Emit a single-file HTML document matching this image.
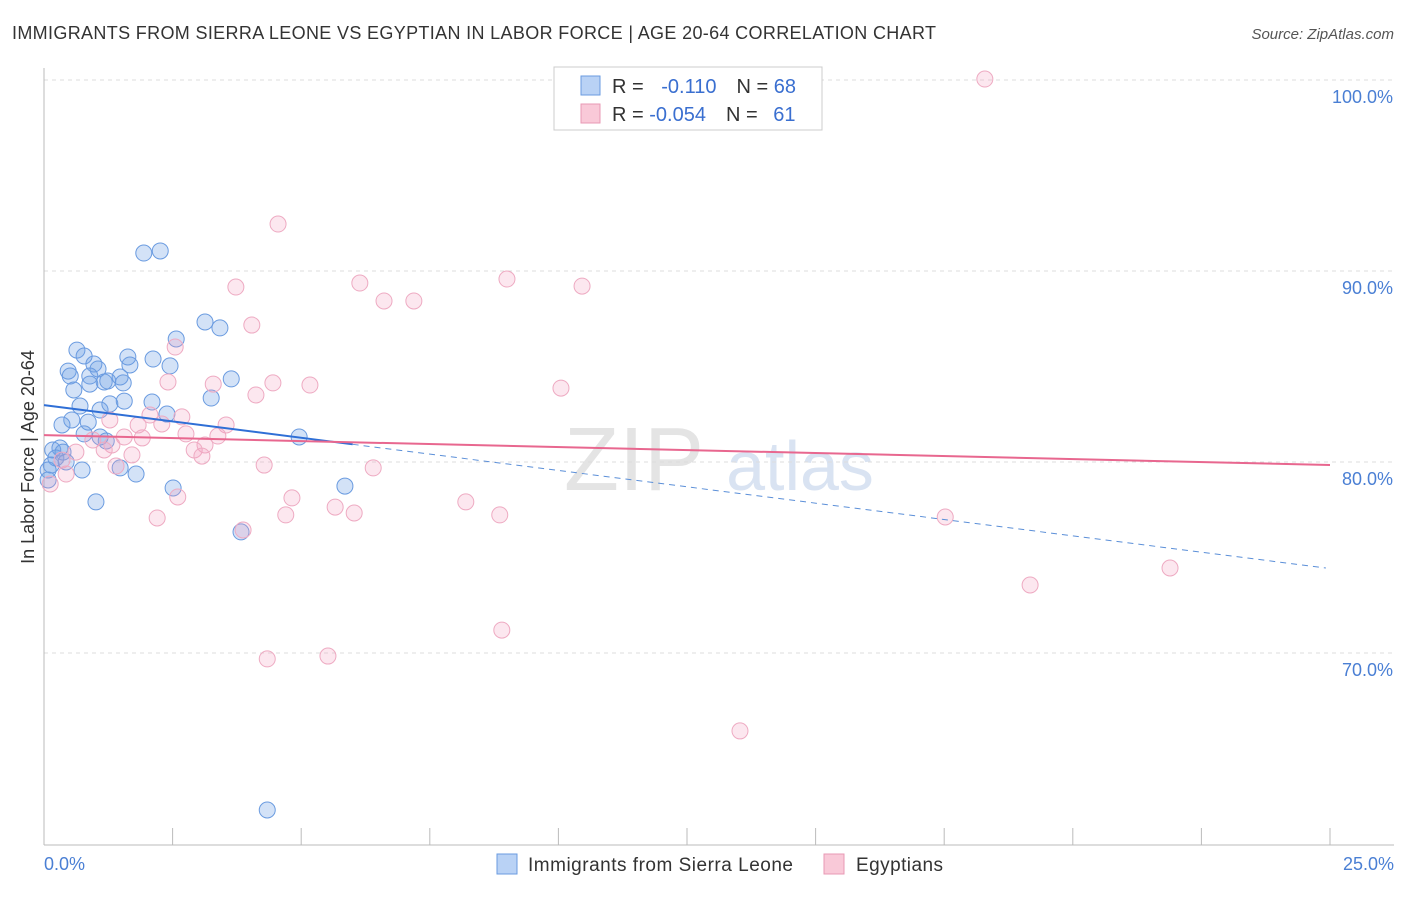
<!DOCTYPE html>
<html><head><meta charset="utf-8"><style>
body{margin:0;background:#fff;font-family:"Liberation Sans",sans-serif;}
svg text{font-family:"Liberation Sans",sans-serif;}
</style></head><body>
<svg id="chart" width="1406" height="892">
<text x="12" y="39" font-size="18" fill="#333" textLength="924">IMMIGRANTS FROM SIERRA LEONE VS EGYPTIAN IN LABOR FORCE | AGE 20-64 CORRELATION CHART</text>
<text x="1394" y="39" font-size="15" fill="#555" text-anchor="end" font-style="italic">Source: ZipAtlas.com</text>
<text x="634" y="490" font-size="90" fill="#e4e4e4" font-family="Liberation Serif" text-anchor="middle">ZIP</text>
<text x="800" y="490" font-size="70" fill="#d9e3f2" text-anchor="middle">atlas</text>
<g id="grid"></g><g id="axes"></g><g id="pts"></g><g id="trends"></g>
<text transform="translate(34,457) rotate(-90)" font-size="18" fill="#333" text-anchor="middle">In Labor Force | Age 20-64</text>
<text x="44" y="870" font-size="18" fill="#4a7fd4">0.0%</text>
<text x="1394" y="870" font-size="18" fill="#4a7fd4" text-anchor="end">25.0%</text>
<g>
<rect x="554" y="67" width="268" height="63" fill="#fff" stroke="#ccc"/>
<rect x="581" y="76" width="19" height="19" fill="#b9d2f5" stroke="#6a9be0"/>
<rect x="581" y="104" width="19" height="19" fill="#f9c9d8" stroke="#e899b4"/>
<text x="612" y="93" font-size="20" fill="#333">R = <tspan fill="#3a6fd0" dx="12">-0.110</tspan><tspan dx="20" fill="#333">N = </tspan><tspan fill="#3a6fd0">68</tspan></text>
<text x="612" y="121" font-size="20" fill="#333">R = <tspan fill="#3a6fd0">-0.054</tspan><tspan dx="20" fill="#333">N = </tspan><tspan fill="#3a6fd0" dx="10">61</tspan></text>
</g>
<g>
<rect x="497" y="854" width="20" height="20" fill="#b9d2f5" stroke="#6a9be0"/>
<text x="528" y="871" font-size="19" fill="#333" textLength="265">Immigrants from Sierra Leone</text>
<rect x="824" y="854" width="20" height="20" fill="#f9c9d8" stroke="#e899b4"/>
<text x="856" y="871" font-size="19" fill="#333" textLength="87">Egyptians</text>
</g>
</svg>
<script>
const yTicks=[100,90,80,70];
const xTicks=[0,2.5,5,7.5,10,12.5,15,17.5,20,22.5,25];
const blueX=[1.94,2.26,3.13,3.42,2.57,0.64,0.78,0.47,0.51,0.97,1.05,1.63,1.67,2.12,2.45,0.89,1.17,1.24,1.48,1.54,3.64,3.25,0.58,0.89,2.10,0.70,1.09,1.28,1.56,2.39,0.54,0.35,0.86,0.78,1.09,1.21,0.31,0.17,0.23,0.14,0.08,0.74,1.48,1.79,0.08,1.01,2.51,4.96,5.85,3.83,4.34,0.37,0.43];
const blueY=[90.94,91.05,87.33,87.02,86.44,85.86,85.55,84.76,84.50,85.13,84.87,85.50,85.08,85.39,85.03,84.50,84.19,84.24,84.45,84.14,84.35,83.35,83.77,84.08,83.14,82.93,82.72,83.04,83.19,82.51,82.20,81.94,82.09,81.47,81.31,81.10,80.73,80.63,80.21,79.84,79.58,79.58,79.69,79.37,79.06,77.91,78.64,81.31,78.74,76.34,61.78,80.52,80.0];
const pinkX=[18.29,4.55,3.73,6.14,9.00,10.46,6.61,7.19,4.04,2.55,2.41,3.29,4.45,5.17,4.12,10.05,2.06,2.68,2.29,3.54,2.76,3.38,1.91,3.13,2.92,3.07,1.56,1.32,1.17,1.71,1.40,0.95,0.62,0.35,0.43,0.12,4.28,6.40,2.60,4.82,4.70,5.66,6.03,8.20,8.86,2.20,3.87,17.52,21.89,19.17,8.90,4.34,5.52,13.53,1.28,1.83];
const pinkY=[100.05,92.46,89.16,89.37,89.58,89.21,88.43,88.43,87.17,86.02,84.19,84.08,84.14,84.03,83.51,83.87,82.46,82.36,81.99,81.94,81.47,81.36,81.26,80.89,80.63,80.31,81.31,80.89,80.63,80.37,79.79,81.15,80.52,80.10,79.37,78.85,79.84,79.69,78.17,78.12,77.23,77.64,77.33,77.91,77.23,77.07,76.44,77.12,74.45,73.56,71.20,69.69,69.84,65.92,82.20,81.94];
const blueTrend=[82.98,-0.3423];
const pinkTrend=[81.41,-0.0628];
const X=v=>44+v/25*1286, Y=v=>80+(100-v)*19.1;
const NS='http://www.w3.org/2000/svg';
function mk(tag,parent,attrs){const e=document.createElementNS(NS,tag);for(const k in attrs)e.setAttribute(k,attrs[k]);document.getElementById(parent).appendChild(e);return e;}
yTicks.forEach(t=>{
 const l=mk('line','grid',{x1:44,x2:1394,y1:Y(t),y2:Y(t),stroke:'#ddd','stroke-dasharray':'4,4'});
 
 
 const tx=mk('text','grid',{x:1393,y:Y(t)+23,'font-size':18,fill:'#4a7fd4','text-anchor':'end'});
 tx.textContent=t.toFixed(1)+'%';
 
 
});
const ax=mk('line','axes',{x1:44,x2:44,y1:68,y2:845,stroke:'#bbb'});


const bx=mk('line','axes',{x1:44,x2:1394,y1:845,y2:845,stroke:'#bbb'});


xTicks.forEach(t=>{
 const l=mk('line','axes',{x1:X(t),x2:X(t),y1:828,y2:845,stroke:'#bbb'});
 
 
});
blueX.forEach((v,i)=>{
 const c=mk('circle','pts',{cx:X(v),cy:Y(blueY[i]),r:8,fill:'rgba(110,160,230,0.3)',stroke:'#6a9be0','stroke-width':1});
 
 
});
pinkX.forEach((v,i)=>{
 const c=mk('circle','pts',{cx:X(v),cy:Y(pinkY[i]),r:8,fill:'rgba(245,160,190,0.25)',stroke:'#eeaac2','stroke-width':1});
 
 
});
const bl=mk('line','trends',{x1:X(0),y1:Y(blueTrend[0]),x2:X(6),y2:Y(blueTrend[0]+blueTrend[1]*6),stroke:'#2f6fd6','stroke-width':2});


const bd=mk('line','trends',{x1:X(6),y1:Y(blueTrend[0]+blueTrend[1]*6),x2:X(24.92),y2:Y(blueTrend[0]+blueTrend[1]*24.92),stroke:'#5b8fd8','stroke-width':1,'stroke-dasharray':'6,5'});


const pl=mk('line','trends',{x1:X(0),y1:Y(pinkTrend[0]),x2:X(25),y2:Y(pinkTrend[0]+pinkTrend[1]*25),stroke:'#e8678f','stroke-width':2});


</script>
</body></html>
